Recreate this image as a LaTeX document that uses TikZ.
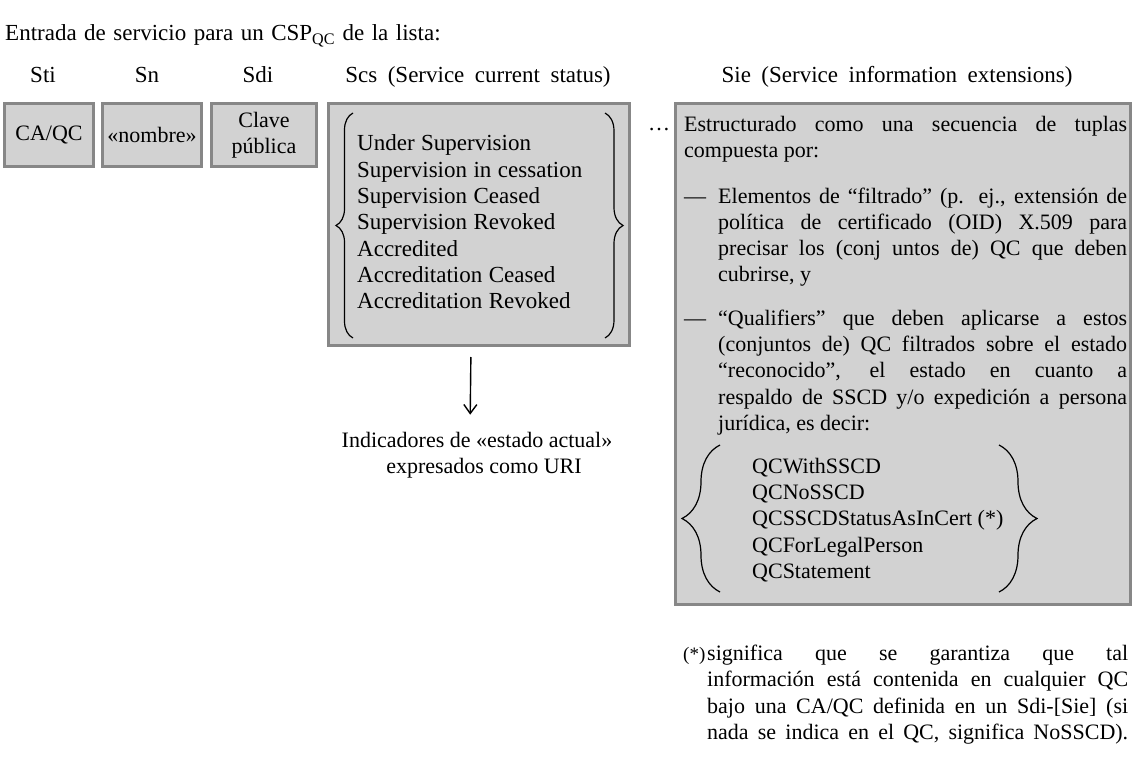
\documentclass[tikz,border=0pt]{standalone}
\usepackage{fontspec}
\setmainfont{Liberation Serif}
\usetikzlibrary{arrows.meta,decorations.pathreplacing}

\definecolor{boxfill}{RGB}{210,210,210}
\definecolor{boxline}{RGB}{135,135,135}

\newcommand\wordgap[1]{\spaceskip=#1 plus 2pt\relax}

\begin{document}
\begin{tikzpicture}[
  x=1pt, y=-1pt,
  every node/.style={inner sep=0pt, font=\fontsize{22}{26.3}\selectfont},
  greybox/.style={
    draw=boxline, fill=boxfill, line width=3pt, rectangle,
    align=center
  },
  headtxt/.style={anchor=base, font=\fontsize{23}{26.3}\selectfont\wordgap{10.5pt}},
  curly/.style={decorate, decoration={brace, amplitude=#1}, line width=1.2pt},
  arrow/.style={-{Straight Barb[length=9pt,width=13pt]}, line width=1.4pt}
]
\useasboundingbox (0,0) rectangle (1135,784);

\node[anchor=base west, font=\fontsize{23}{26.3}\selectfont\wordgap{7.5pt}] (title) at (5,41)
  {Entrada de servicio para un CSP\textsubscript{QC} de la lista:};

% column heads
\node[headtxt] (hsti) at (43,82)  {Sti};
\node[headtxt] (hsn)  at (147,82) {Sn};
\node[headtxt] (hsdi) at (258,82) {Sdi};
\node[headtxt] (hscs) at (478,82) {Scs (Service current status)};
\node[headtxt] (hsie) at (897,82) {Sie (Service information extensions)};

% boxes
\node[greybox, minimum width=89pt,  minimum height=63pt]  (sti) at (49,135)    {CA/QC};
\node[greybox, minimum width=99pt,  minimum height=63pt]  (sn)  at (152,135)   {«nombre»};
\node[greybox, minimum width=105pt, minimum height=63pt]  (sdi) at (264,135)   {Clave\\pública};
\node[greybox, minimum width=301pt, minimum height=242pt] (scs) at (479,224.5) {};
\node (dots) at (659,130) {\dots};
\node[greybox, minimum width=455pt, minimum height=501pt] (sie) at (903,354)   {};

% service current status
\node[anchor=west, align=left, font=\fontsize{23}{26.3}\selectfont\wordgap{6.5pt}] (scslist) at (357,222)
  {Under Supervision\\Supervision in cessation\\Supervision Ceased\\Supervision Revoked\\Accredited\\Accreditation Ceased\\Accreditation Revoked};
\draw[curly=17pt] (353,338) -- (353,113);
\draw[curly=18pt] (605,113) -- (605,338);

\node[align=center] (indic) at (477,455) {Indicadores de «estado actual»\\\hspace*{14pt}expresados como URI};
\draw[arrow, shorten <=10pt, shorten >=17pt] ([xshift=-8pt]scs.south) -- ([xshift=-7pt]indic.north);

% service information extensions
\node[anchor=north west, text width=443pt, align=justify] (sietext) at (684,116) {%
\parindent=0pt
Estructurado como una secuencia de tuplas\linebreak compuesta por:\par
\vspace{19pt}
\hangindent=34pt\hangafter=1\noindent\makebox[34pt][l]{—}Elementos de “filtrado” (p. ej., extensión de\linebreak política de certificado (OID) X.509 para\linebreak precisar los (conj untos de) QC que deben\linebreak cubrirse, y\par
\vspace{17pt}
\hangindent=34pt\hangafter=1\noindent\makebox[34pt][l]{—}“Qualifiers” que deben aplicarse a estos\linebreak (conjuntos de) QC filtrados sobre el estado\linebreak “reconocido”, el estado en cuanto a\linebreak respaldo de SSCD y/o expedición a persona\linebreak jurídica, es decir:\par};

\node[anchor=west, align=left] (qlist) at (752,520) {QCWithSSCD\\QCNoSSCD\\QCSSCDStatusAsInCert (*)\\QCForLegalPerson\\QCStatement};
\draw[curly=38pt] (720,592) -- (720,445);
\draw[curly=38pt] (999,445) -- (999,592);

% note
\node[anchor=north west, text width=445pt, align=justify] (note) at (683,645) {%
\parindent=0pt\parfillskip=0pt
\hangindent=24pt\hangafter=1\noindent\makebox[24pt][l]{\fontsize{19}{26.3}\selectfont(*)}significa que se garantiza que tal\linebreak información está contenida en cualquier QC\linebreak bajo una CA/QC definida en un Sdi-[Sie] (si\linebreak nada se indica en el QC, significa NoSSCD).\par};

\end{tikzpicture}
\end{document}
